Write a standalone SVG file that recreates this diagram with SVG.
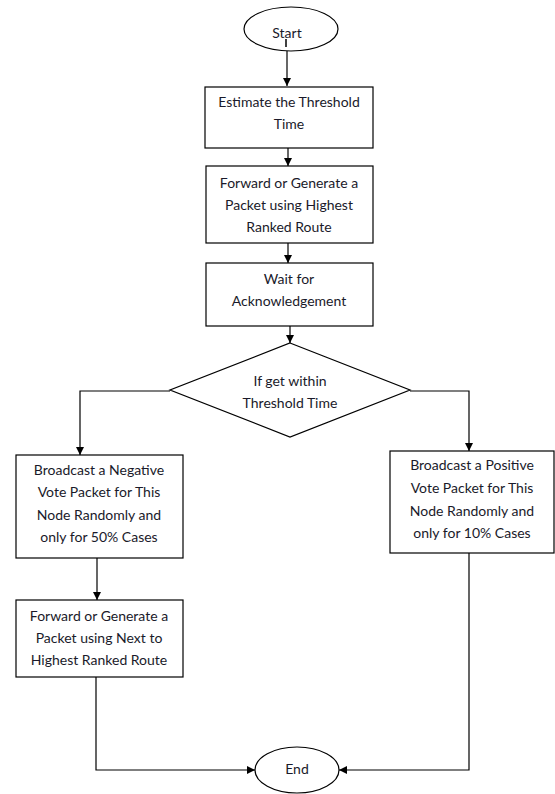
<svg xmlns="http://www.w3.org/2000/svg" width="555" height="794" viewBox="0 0 555 794">
<style>
.n{fill:#fff;stroke:#000;stroke-width:1.2}
.c{fill:none;stroke:#000;stroke-width:1.2}
text{font-family:Lato,"Liberation Sans",sans-serif;font-size:14px;fill:#1a1a2a;text-anchor:middle}
</style>
<defs>
<marker id="a" viewBox="0 0 10 10" refX="10" refY="5" markerWidth="8" markerHeight="8" markerUnits="userSpaceOnUse" orient="auto">
<path d="M0,0L10,5L0,10z" fill="#000"/>
</marker>
</defs>
<rect width="555" height="794" fill="#fff"/>
<g id="connectors">
<path class="c" d="M287,51V86" marker-end="url(#a)"/>
<path class="c" d="M288,148V166" marker-end="url(#a)"/>
<path class="c" d="M288,243V263" marker-end="url(#a)"/>
<path class="c" d="M290,326V343" marker-end="url(#a)"/>
<path class="c" d="M170,391H80V455" marker-end="url(#a)"/>
<path class="c" d="M410,391H469V451" marker-end="url(#a)"/>
<path class="c" d="M97,558V600" marker-end="url(#a)"/>
<path class="c" d="M96,677V770H255" marker-end="url(#a)"/>
<path class="c" d="M469,553V770H339" marker-end="url(#a)"/>
</g>
<g id="start">
<ellipse class="n" cx="291" cy="29" rx="47" ry="22"/>
<text x="287" y="38">Start</text>
<line x1="286" y1="39" x2="286" y2="47" stroke="#000" stroke-width="1.5"/>
</g>
<g id="estimate">
<rect class="n" x="205" y="87" width="168" height="61"/>
<text x="289" y="107">Estimate the Threshold</text>
<text x="289" y="129">Time</text>
</g>
<g id="forward1">
<rect class="n" x="206" y="166" width="167" height="77"/>
<text x="289" y="188">Forward or Generate a</text>
<text x="289" y="210">Packet using Highest</text>
<text x="289" y="232">Ranked Route</text>
</g>
<g id="wait">
<rect class="n" x="206" y="263" width="167" height="63"/>
<text x="289" y="284">Wait for</text>
<text x="289" y="306">Acknowledgement</text>
</g>
<g id="decision">
<polygon class="n" points="290,343 410,390 290,437 170,390"/>
<text x="290" y="386">If get within</text>
<text x="290" y="408">Threshold Time</text>
</g>
<g id="negative">
<rect class="n" x="16" y="455" width="167" height="103"/>
<text x="99" y="475">Broadcast a Negative</text>
<text x="99" y="497">Vote Packet for This</text>
<text x="99" y="520">Node Randomly and</text>
<text x="99" y="542">only for 50% Cases</text>
</g>
<g id="forward2">
<rect class="n" x="16" y="600" width="167" height="77"/>
<text x="99" y="621">Forward or Generate a</text>
<text x="99" y="643">Packet using Next to</text>
<text x="99" y="665">Highest Ranked Route</text>
</g>
<g id="positive">
<rect class="n" x="390" y="451" width="164" height="102"/>
<text x="472" y="470">Broadcast a Positive</text>
<text x="472" y="493">Vote Packet for This</text>
<text x="472" y="516">Node Randomly and</text>
<text x="472" y="538">only for 10% Cases</text>
</g>
<g id="end">
<ellipse class="n" cx="297" cy="770" rx="42" ry="23"/>
<text x="297" y="774">End</text>
</g>
</svg>
